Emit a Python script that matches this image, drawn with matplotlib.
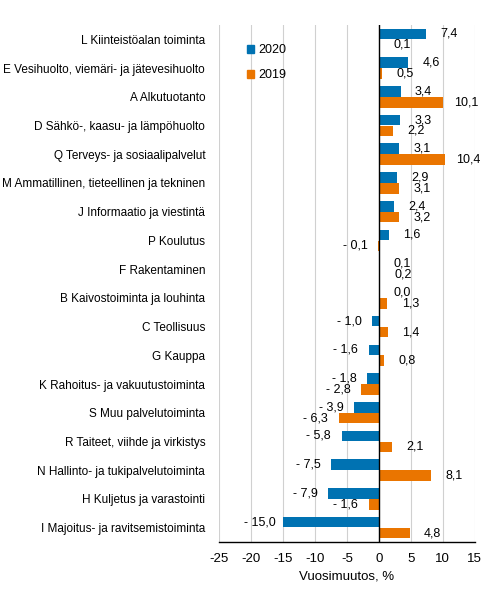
import matplotlib
matplotlib.use("Agg")
import matplotlib.pyplot as plt
from matplotlib.patches import Patch
import numpy as np

plt.rcParams['font.family'] = ['Liberation Sans', 'DejaVu Sans']

# toimialat ylhäältä alas
categories = [
    "L Kiinteistöalan toiminta",
    "E Vesihuolto, viemäri- ja jätevesihuolto",
    "A Alkutuotanto",
    "D Sähkö-, kaasu- ja lämpöhuolto",
    "Q Terveys- ja sosiaalipalvelut",
    "M Ammatillinen, tieteellinen ja tekninen",
    "J Informaatio ja viestintä",
    "P Koulutus",
    "F Rakentaminen",
    "B Kaivostoiminta ja louhinta",
    "C Teollisuus",
    "G Kauppa",
    "K Rahoitus- ja vakuutustoiminta",
    "S Muu palvelutoiminta",
    "R Taiteet, viihde ja virkistys",
    "N Hallinto- ja tukipalvelutoiminta",
    "H Kuljetus ja varastointi",
    "I Majoitus- ja ravitsemistoiminta",
]
v2020 = [7.4, 4.6, 3.4, 3.3, 3.1, 2.9, 2.4, 1.6, 0.1, 0.0, -1.0, -1.6, -1.8, -3.9, -5.8, -7.5, -7.9, -15.0]
v2019 = [0.1, 0.5, 10.1, 2.2, 10.4, 3.1, 3.2, -0.1, 0.2, 1.3, 1.4, 0.8, -2.8, -6.3, 2.1, 8.1, -1.6, 4.8]
xticks = [-25, -20, -15, -10, -5, 0, 5, 10, 15]

c2020 = "#0072b2"
c2019 = "#ea7500"


def fmt(v):
    s = ("%.1f" % abs(v)).replace(".", ",")
    return "- " + s if v < 0 else s


fig = plt.figure(figsize=(4.9, 6.08), dpi=100)
ax = fig.add_axes([0.447, 0.1086, 0.522, 0.8503])

y = np.arange(len(categories))
h = 0.37
off = 0.19
ax.barh(y - off, v2020, height=h, color=c2020, zorder=3)
ax.barh(y + off, v2019, height=h, color=c2019, zorder=3)

for yy, a, b in zip(y, v2020, v2019):
    for val, yp in ((a, yy - off), (b, yy + off)):
        dx = 23 if val >= 0 else -23
        ax.annotate(fmt(val), (val, yp), xytext=(dx, 0), textcoords="offset pixels",
                    ha="center", va="center", fontsize=9, color="#000000")

ax.set_xlim(-25, 15)
ax.set_ylim(len(categories) - 0.5, -0.5)
ax.set_xticks(xticks)
ax.set_xticklabels([str(t) for t in xticks], fontsize=9.5)
ax.set_yticks(y)
ax.set_yticklabels(categories, fontsize=8.5)
ax.tick_params(axis="both", length=0)
ax.tick_params(axis="y", pad=10)
ax.tick_params(axis="x", pad=8)
ax.set_xlabel("Vuosimuutos, %", fontsize=9.5, labelpad=4)

ax.grid(axis="x", color="#d0d0d0", linewidth=0.8, zorder=0)
for s in ("top", "right", "left"):
    ax.spines[s].set_visible(False)
ax.spines["bottom"].set_color("black")
ax.spines["bottom"].set_linewidth(1.0)
ax.axvline(0, color="black", linewidth=1.0, zorder=4)

handles = [Patch(color=c2020, label="2020"), Patch(color=c2019, label="2019")]
ax.legend(handles=handles, loc="upper left", bbox_to_anchor=(0.065, 0.985), frameon=False,
          fontsize=9, handlelength=0.6, handleheight=0.6, handletextpad=0.3,
          labelspacing=1.05)

fig.savefig("out.png", dpi=100)
